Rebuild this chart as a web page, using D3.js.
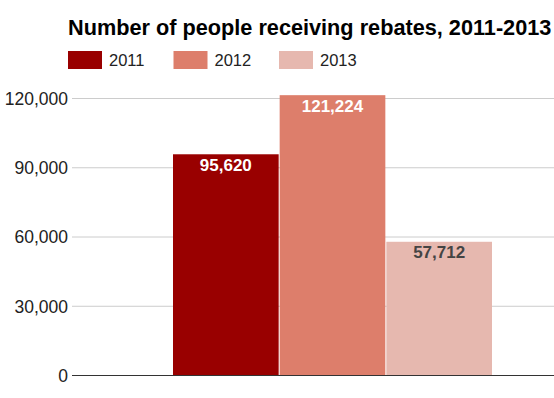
<!doctype html>
<html lang="en">
<head>
<meta charset="utf-8">
<style>
body { margin: 0; background: #fff; }
svg { display: block; }
text { font-family: 'Liberation Sans', Arial, sans-serif; }
.grid line { stroke: #cccccc; }
.grid path { stroke-width: 0; }
.yaxis path, .yaxis line { display: none; }
.yaxis text { font-size: 17.5px; fill: #222; }
text.title { font-size: 21.7px; font-weight: bold; fill: #000; }
text.legend { font-size: 16.5px; fill: #222; }
text.value { font-size: 17px; font-weight: bold; }
</style>
</head>
<body>
<svg width="554" height="398"></svg>
<script src="https://d3js.org/d3.v7.min.js"></script>
<script>
const years = ['2011', '2012', '2013'];
const people = [95620, 121224, 57712];
const colors = ['#990000', '#dd7e6b', '#e6b8af'];
const labelColors = ['#ffffff', '#ffffff', '#444444'];
const yTicks = [0, 30000, 60000, 90000, 120000];

const svg = d3.select('svg');
const plotLeft = 72, plotRight = 594, plotTop = 98, plotBottom = 375;

const yScale = d3.scaleLinear()
  .domain([0, 120000])
  .range([plotBottom, plotTop]);

// one category group, placed like the original (off centre)
const x0 = d3.scaleBand()
  .domain(['all'])
  .range([plotLeft, plotRight])
  .paddingOuter(0.3156);

const x1 = d3.scaleBand()
  .domain(years)
  .range([0, x0.bandwidth()]);

// grid
svg.append('g')
  .attr('class', 'grid')
  .attr('transform', `translate(${plotLeft}, 0)`)
  .call(d3.axisLeft(yScale)
    .tickValues(yTicks.slice(1))
    .tickSize(-(554 - plotLeft))
    .tickFormat(''));

// y labels
svg.append('g')
  .attr('class', 'yaxis')
  .attr('transform', `translate(${plotLeft - 2}, 0)`)
  .call(d3.axisLeft(yScale)
    .tickValues(yTicks)
    .tickSize(0)
    .tickPadding(2)
    .tickFormat(d3.format(',')))
  .selectAll('text')
  .attr('dy', '0.36em');

const rows = years.map((y, i) => ({ year: y, value: people[i], color: colors[i], label: labelColors[i] }));

const g = svg.append('g')
  .attr('transform', `translate(${x0('all')}, 0)`);

g.selectAll('rect')
  .data(rows)
  .enter()
  .append('rect')
  .attr('x', d => x1(d.year))
  .attr('y', d => yScale(d.value))
  .attr('width', x1.bandwidth() - 1)
  .attr('height', d => plotBottom - yScale(d.value))
  .attr('fill', d => d.color);

g.selectAll('text.value')
  .data(rows)
  .enter()
  .append('text')
  .attr('class', 'value')
  .attr('x', d => x1(d.year) + (x1.bandwidth() - 1) / 2)
  .attr('y', d => yScale(d.value) + 16.5)
  .attr('text-anchor', 'middle')
  .attr('fill', d => d.label)
  .text(d => d3.format(',')(d.value));

// baseline
svg.append('line')
  .attr('x1', plotLeft).attr('x2', 554)
  .attr('y1', yScale(0) + 0.5).attr('y2', yScale(0) + 0.5)
  .attr('stroke', '#333');

// title
svg.append('text')
  .attr('class', 'title')
  .attr('x', 68)
  .attr('y', 35)
  .text('Number of people receiving rebates, 2011-2013');

// legend
const legend = svg.selectAll('g.leg')
  .data(rows)
  .enter()
  .append('g')
  .attr('class', 'leg')
  .attr('transform', (d, i) => `translate(${68 + i * 105.5}, 51)`);

legend.append('rect')
  .attr('width', 34)
  .attr('height', 18)
  .attr('fill', d => d.color);

legend.append('text')
  .attr('class', 'legend')
  .attr('x', 41)
  .attr('y', 15)
  .text(d => d.year);
</script>
</body>
</html>
